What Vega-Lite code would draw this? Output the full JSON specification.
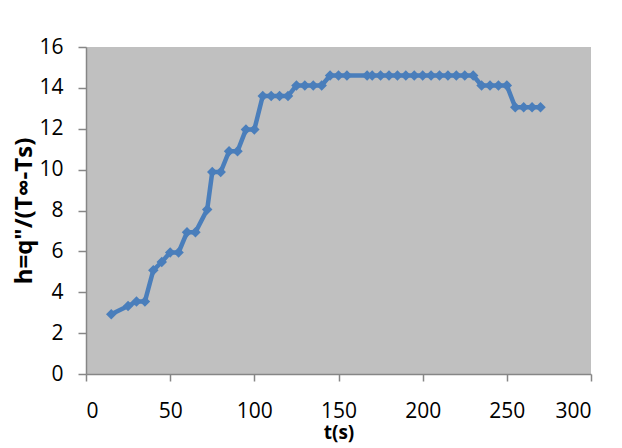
{
  "$schema": "https://vega.github.io/schema/vega-lite/v6.json",
  "width": 505,
  "height": 327,
  "autosize": "none",
  "padding": {"left": 86, "top": 47, "right": 31, "bottom": 74},
  "background": "white",
  "config": {
    "view": {"fill": "#C0C0C0", "stroke": null},
    "font": "Open Sans",
    "axis": {
      "domainColor": "#868686",
      "domainWidth": 1.5,
      "tickColor": "#868686",
      "tickWidth": 1.5,
      "grid": false,
      "labelFont": "Open Sans",
      "labelFontSize": 21,
      "labelColor": "#000000",
      "titleFont": "Open Sans",
      "titleFontWeight": "bold",
      "titleColor": "#000000"
    }
  },
  "data": {
    "values": [
      {"t": 15, "h": 2.92},
      {"t": 25, "h": 3.33},
      {"t": 30, "h": 3.55},
      {"t": 35, "h": 3.55},
      {"t": 40, "h": 5.08},
      {"t": 45, "h": 5.48},
      {"t": 50, "h": 5.95},
      {"t": 55, "h": 5.95},
      {"t": 60, "h": 6.93},
      {"t": 65, "h": 6.93},
      {"t": 72, "h": 8.05},
      {"t": 75, "h": 9.88},
      {"t": 80, "h": 9.88},
      {"t": 85, "h": 10.9},
      {"t": 90, "h": 10.9},
      {"t": 95, "h": 11.96},
      {"t": 100, "h": 11.96},
      {"t": 105, "h": 13.6},
      {"t": 110, "h": 13.6},
      {"t": 115, "h": 13.6},
      {"t": 120, "h": 13.6},
      {"t": 125, "h": 14.12},
      {"t": 130, "h": 14.12},
      {"t": 135, "h": 14.12},
      {"t": 140, "h": 14.12},
      {"t": 145, "h": 14.6},
      {"t": 150, "h": 14.6},
      {"t": 155, "h": 14.6},
      {"t": 167, "h": 14.6},
      {"t": 170, "h": 14.6},
      {"t": 175, "h": 14.6},
      {"t": 180, "h": 14.6},
      {"t": 185, "h": 14.6},
      {"t": 190, "h": 14.6},
      {"t": 195, "h": 14.6},
      {"t": 200, "h": 14.6},
      {"t": 205, "h": 14.6},
      {"t": 210, "h": 14.6},
      {"t": 215, "h": 14.6},
      {"t": 220, "h": 14.6},
      {"t": 225, "h": 14.6},
      {"t": 230, "h": 14.6},
      {"t": 235, "h": 14.12},
      {"t": 240, "h": 14.12},
      {"t": 245, "h": 14.12},
      {"t": 250, "h": 14.12},
      {"t": 255, "h": 13.05},
      {"t": 260, "h": 13.05},
      {"t": 265, "h": 13.05},
      {"t": 270, "h": 13.05}
    ]
  },
  "mark": {
    "type": "line",
    "color": "#4A7EBB",
    "strokeWidth": 4.5,
    "point": {"shape": "diamond", "size": 110, "filled": true, "color": "#4A7EBB"}
  },
  "encoding": {
    "x": {
      "field": "t",
      "type": "quantitative",
      "title": "t(s)",
      "scale": {"domain": [0, 300], "nice": false},
      "axis": {"values": [0, 50, 100, 150, 200, 250, 300], "tickSize": 7, "labelPadding": 19, "titlePadding": 2, "titleFontSize": 19}
    },
    "y": {
      "field": "h",
      "type": "quantitative",
      "title": "h=q\"/(T∞-Ts)",
      "scale": {"domain": [0, 16], "nice": false},
      "axis": {"values": [0, 2, 4, 6, 8, 10, 12, 14, 16], "tickSize": 8, "labelPadding": 15, "titlePadding": 2, "titleFontSize": 24}
    }
  }
}
